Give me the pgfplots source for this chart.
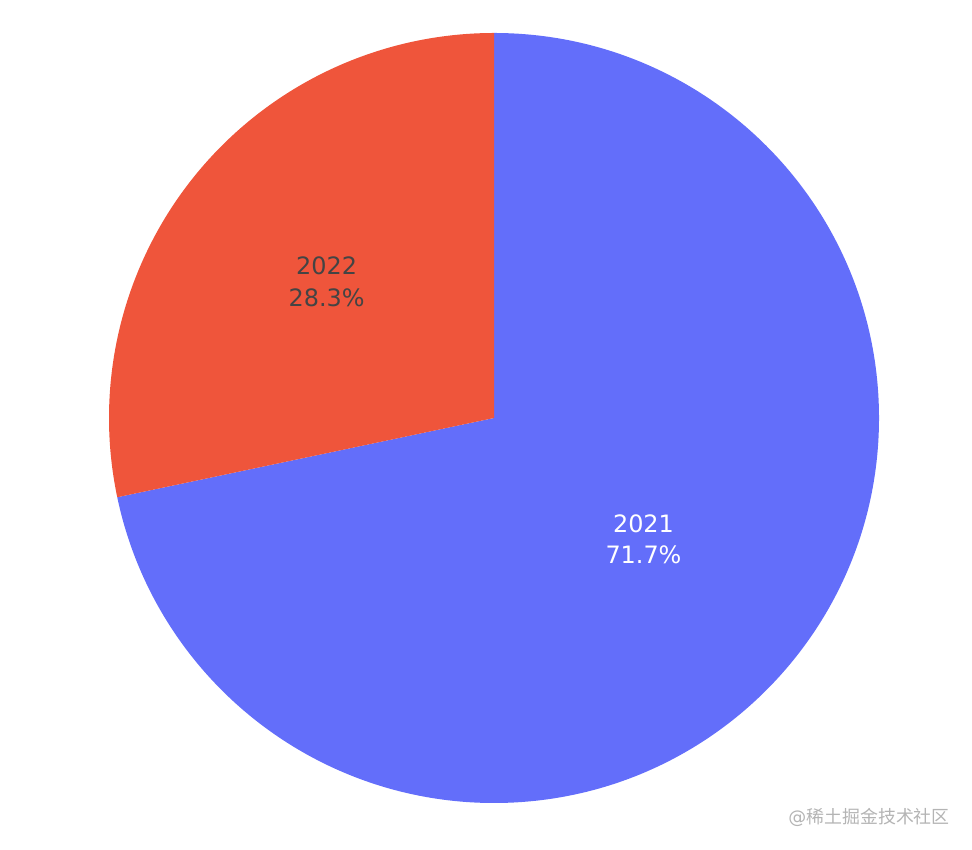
\documentclass[border=0pt]{standalone}
\usepackage{fontspec}
\setmainfont{DejaVu Sans}
\newfontfamily\cjk{Noto Sans CJK SC}
\usepackage{pgfplots}
\usepackage{pgfplotstable}
\pgfplotsset{compat=1.18}
\definecolor{c2021}{HTML}{636EFA}
\definecolor{c2022}{HTML}{EF553B}
\definecolor{lab}{HTML}{444444}
\definecolor{wm}{HTML}{B4B4B4}
\pgfplotstableread{
label value
2021 71.7
2022 28.3
}\piedata
\begin{document}
\begin{tikzpicture}[x=1bp,y=1bp]
\path[use as bounding box] (0,0) rectangle (972,850);
\pgfplotstablegetelem{0}{value}\of\piedata \let\va\pgfplotsretval
\pgfplotstablegetelem{1}{value}\of\piedata \let\vb\pgfplotsretval
\pgfmathsetmacro\aA{90-3.6*\va}
\pgfmathsetmacro\aB{\aA-3.6*\vb}
\pgfmathsetmacro\mA{(90+\aA)/2}
\pgfmathsetmacro\mB{(\aA+\aB)/2}
\begin{axis}[at={(494bp,432bp)}, anchor=center, scale only axis,
  width=770bp, height=770bp, xmin=-1, xmax=1, ymin=-1, ymax=1,
  hide axis, clip=false]
\fill[c2021] (axis cs:0,0) -- (axis cs:0,1) arc[start angle=90, end angle=\aA, radius=385bp] -- cycle;
\fill[c2022] (axis cs:0,0) -- (axis cs:{cos(\aA)},{sin(\aA)}) arc[start angle=\aA, end angle=\aB, radius=385bp] -- cycle;
\node[text=white, align=center, font=\fontsize{24}{32}\selectfont] at (axis cs:{0.5*cos(\mA)},{0.5*sin(\mA)}) {2021\\71.7\%};
\node[text=lab, align=center, font=\fontsize{24}{32}\selectfont] at (axis cs:{0.56*cos(\mB)},{0.56*sin(\mB)}) {2022\\28.3\%};
\end{axis}
\node[anchor=east, text=wm, font=\fontsize{18}{20}\selectfont, inner sep=0pt] at (950bp,33bp) {@\cjk 稀土掘金技术社区};
\end{tikzpicture}
\end{document}
